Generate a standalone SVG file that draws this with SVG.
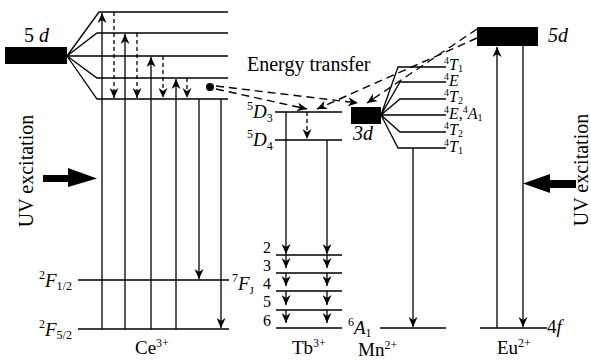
<svg xmlns="http://www.w3.org/2000/svg" width="591" height="360" viewBox="0 0 591 360" font-family="'Liberation Serif', 'DejaVu Serif', serif">
<defs>
<marker id="ah" markerUnits="userSpaceOnUse" markerWidth="11" markerHeight="9" refX="10" refY="4.5" orient="auto">
<path d="M0,0 L10,4.5 L0,9 L3,4.5 z" fill="#000"/>
</marker>
</defs>
<style>
.ln{stroke:#000;stroke-width:1.3;fill:none}
.ar{stroke:#000;stroke-width:1.3;fill:none;marker-end:url(#ah)}
.da{stroke:#000;stroke-width:1.3;fill:none;stroke-dasharray:4,3;marker-end:url(#ah)}
.et{stroke:#000;stroke-width:1.4;fill:none;stroke-dasharray:8,5;marker-end:url(#ah)}
text{font-family:'Liberation Serif','DejaVu Serif',serif;fill:#000}
.i{font-style:italic}
</style>
<rect width="591" height="360" fill="#fff"/>

<g id="ce">
<rect x="5" y="47" width="62" height="17" fill="#000"/>
<text x="24" y="42" font-size="20">5 <tspan class="i">d</tspan></text>
<path class="ln" d="M67,56 L99,12 H228 M67,56 L97,33 H228 M67,56 H228 M67,56 L97,78 H228 M67,56 L97,99 H228"/>
<path class="ln" d="M78,280 H229 M78,329 H229"/>
<text x="39" y="287" font-size="19"><tspan font-size="12" dy="-8">2</tspan><tspan class="i" dy="8">F</tspan><tspan font-size="12" dy="3">1/2</tspan></text>
<text x="39" y="336" font-size="19"><tspan font-size="12" dy="-8">2</tspan><tspan class="i" dy="8">F</tspan><tspan font-size="12" dy="3">5/2</tspan></text>
<text x="135" y="354" font-size="19">Ce<tspan font-size="12" dy="-7">3+</tspan></text>
<circle cx="210" cy="87" r="4" fill="#000"/>
<text transform="translate(33,171) rotate(-90)" text-anchor="middle" font-size="20">UV excitation</text>
<path d="M43,175 H68 V168 L97,178.5 L68,187 V182 H43 z" fill="#000"/>
</g>

<g id="tb">
<path class="ln" d="M275,112 H342 M275,140 H342 M276,255 H342 M276,273 H342 M276,291 H342 M276,310 H342 M276,328 H342"/>
<text x="247" y="118" font-size="19"><tspan font-size="12" dy="-8">5</tspan><tspan class="i" dy="8">D</tspan><tspan font-size="12" dy="4">3</tspan></text>
<text x="247" y="146" font-size="19"><tspan font-size="12" dy="-8">5</tspan><tspan class="i" dy="8">D</tspan><tspan font-size="12" dy="4">4</tspan></text>
<text x="232" y="290" font-size="19"><tspan font-size="12" dy="-8">7</tspan><tspan class="i" dy="8">F</tspan><tspan font-size="11" dy="4">J</tspan></text>
<g font-size="16">
<text x="263" y="253">2</text>
<text x="263" y="271">3</text>
<text x="263" y="289">4</text>
<text x="263" y="307">5</text>
<text x="263" y="326">6</text>
</g>
<text x="292" y="354" font-size="19">Tb<tspan font-size="12" dy="-7">3+</tspan></text>
</g>

<g id="mn">
<rect x="351" y="107" width="30" height="17" fill="#000"/>
<text class="i" x="353" y="140" font-size="20">3d</text>
<path class="ln" d="M381,115 L398,67 H446 M381,115 L400,82 H446 M381,115 L400,99 H446 M381,115 H446 M381,115 L400,132 H446 M381,115 L398,148 H446"/>
<path class="ln" d="M380,328 H446"/>
<g font-size="16">
<text x="444" y="70"><tspan font-size="10" dy="-6">4</tspan><tspan class="i" dy="6">T</tspan><tspan font-size="10" dy="2">1</tspan></text>
<text x="444" y="86"><tspan font-size="10" dy="-6">4</tspan><tspan class="i" dy="6">E</tspan></text>
<text x="444" y="102"><tspan font-size="10" dy="-6">4</tspan><tspan class="i" dy="6">T</tspan><tspan font-size="10" dy="2">2</tspan></text>
<text x="444" y="119"><tspan font-size="10" dy="-6">4</tspan><tspan class="i" dy="6">E</tspan>,<tspan font-size="10" dy="-6">4</tspan><tspan class="i" dy="6">A</tspan><tspan font-size="10" dy="2">1</tspan></text>
<text x="444" y="135"><tspan font-size="10" dy="-6">4</tspan><tspan class="i" dy="6">T</tspan><tspan font-size="10" dy="2">2</tspan></text>
<text x="444" y="152"><tspan font-size="10" dy="-6">4</tspan><tspan class="i" dy="6">T</tspan><tspan font-size="10" dy="2">1</tspan></text>
</g>
<text x="348" y="334" font-size="19"><tspan font-size="12" dy="-8">6</tspan><tspan class="i" dy="8">A</tspan><tspan font-size="12" dy="3">1</tspan></text>
<text x="358" y="356" font-size="19">Mn<tspan font-size="12" dy="-7">2+</tspan></text>
</g>

<g id="eu">
<rect x="477" y="27" width="61" height="19" fill="#000"/>
<text class="i" x="548" y="42" font-size="20">5d</text>
<path class="ln" d="M480,328 H547"/>
<text x="547" y="333" font-size="19">4<tspan class="i">f</tspan></text>
<text x="497" y="354" font-size="19">Eu<tspan font-size="12" dy="-7">2+</tspan></text>
<text transform="translate(588,170) rotate(-90)" text-anchor="middle" font-size="20">UV excitation</text>
<path d="M576,180 H550 V174 L523,183.5 L550,193 V188 H576 z" fill="#000"/>
</g>

<text x="247" y="71" font-size="20">Energy transfer</text>

<g id="connectors">
<path class="ar" d="M102,329 V13"/>
<path class="ar" d="M125,329 V34"/>
<path class="ar" d="M151,329 V57"/>
<path class="ar" d="M176,329 V79"/>
<path class="da" d="M114,12 V98"/>
<path class="da" d="M137,33 V98"/>
<path class="da" d="M163,56 V98"/>
<path class="da" d="M187,78 V98"/>
<path class="ar" d="M199,99 V279"/>
<path class="ar" d="M221,99 V328"/>

<path class="da" d="M307,112 V139"/>
<path class="ar" d="M286,112 V254"/>
<path class="ar" d="M327,140 V254"/>
<path class="ar" d="M286,255 V268"/>
<path class="ar" d="M286,273 V286"/>
<path class="ar" d="M286,291 V305"/>
<path class="ar" d="M286,310 V323"/>
<path class="ar" d="M327,255 V268"/>
<path class="ar" d="M327,273 V286"/>
<path class="ar" d="M327,291 V305"/>
<path class="ar" d="M327,310 V323"/>

<path class="ar" d="M413,148 V327"/>
<path class="ar" d="M497,328 V47"/>
<path class="ar" d="M523,46 V327"/>

<path class="et" d="M216,89 L307,109"/>
<path class="et" d="M216,86 L358,103"/>
<path class="et" d="M477,38 L317,109"/>
<path class="et" d="M477,29 L367,103"/>
</g>
</svg>
